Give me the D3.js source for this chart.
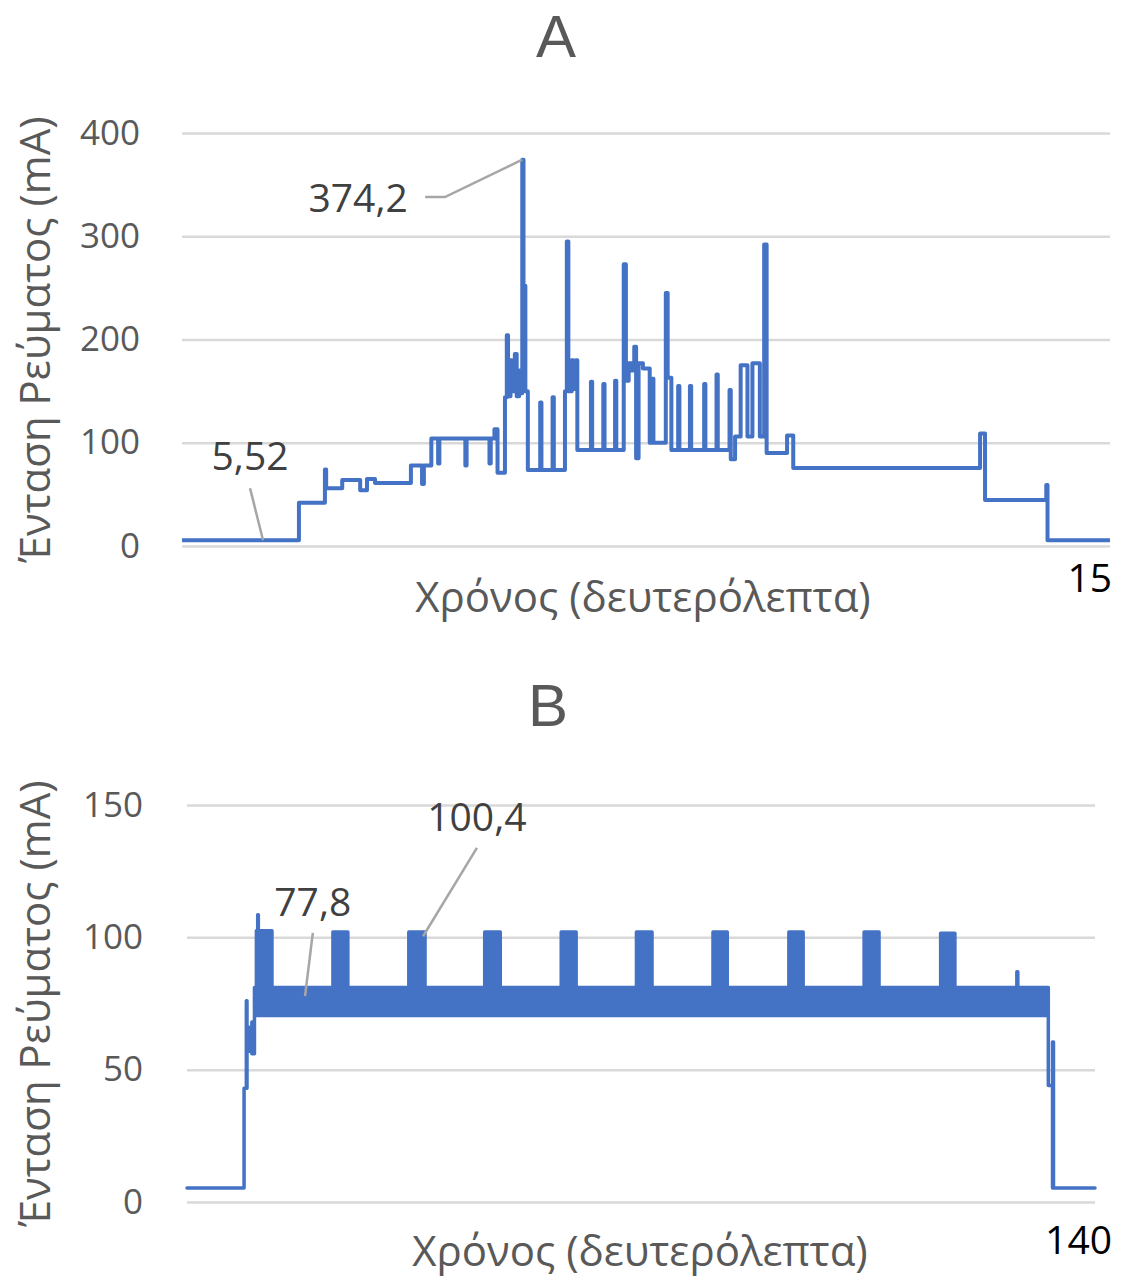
<!DOCTYPE html>
<html>
<head>
<meta charset="utf-8">
<script src="https://cdn.jsdelivr.net/npm/d3@7"></script>
<style>
  body { margin: 0; background: #fff; }
  text { font-family: "Open Sans", "Noto Sans", sans-serif; }
</style>
</head>
<body>
<svg id="canvas" width="1122" height="1284"></svg>
<script>
// --- Panel A: start-up current, step trace (time s, current mA) ---
let aTime = [0, 1.89, 2.31, 2.33, 2.59, 2.88, 2.99, 3.12, 3.70, 3.88, 3.91, 4.03, 4.14, 4.16, 4.58, 4.60, 4.97, 4.99,
             5.05, 5.10, 5.22, 5.25, 5.27, 5.31, 5.33, 5.38, 5.41, 5.45, 5.48, 5.50, 5.52, 5.53, 5.55, 5.59,
             5.79, 5.81, 5.99, 6.01, 6.19, 6.22, 6.245, 6.30, 6.33, 6.37, 6.39, 6.61, 6.63, 6.81, 6.83, 7.00, 7.02,
             7.14, 7.175, 7.22, 7.27, 7.31, 7.34, 7.38, 7.45, 7.56, 7.60, 7.62, 7.82, 7.85, 7.91, 8.02, 8.04,
             8.21, 8.23, 8.44, 8.46, 8.64, 8.66, 8.85, 8.87, 8.94, 9.03, 9.14, 9.22, 9.34, 9.41, 9.45, 9.78, 9.88,
             12.90, 12.98, 13.97, 13.99, 15]
let aCurrent = [5.5, 42, 74, 56, 64, 54, 65, 61, 78, 60, 78, 104, 80, 104, 78, 104, 80, 104,
                113, 71, 144, 204, 145, 180, 150, 186, 145, 170, 148, 374.2, 160, 252, 150, 73.5,
                139, 73.5, 144, 73.5, 150, 295, 150, 180, 152, 180, 93, 159, 93, 157, 93, 160, 93,
                273, 160, 177, 170, 193, 85, 177, 172, 100, 162, 100, 245, 163, 93, 155, 93,
                155, 93, 157, 93, 166, 93, 151, 84, 106, 175, 106, 177, 106, 292, 90, 107, 75.5,
                109, 44.5, 59, 5.5, 5.5]
let aTicks = [0, 100, 200, 300, 400]

// --- Panel B: steady run, min/max envelope of the current (time s, mA) ---
let bTime = [0, 8.8, 9.15, 9.25, 9.6, 10.0, 10.4, 10.7, 10.9, 11.0, 13.1, 22.5, 24.8, 34.2, 36.7, 45.9, 48.3,
             57.7, 60.0, 69.3, 71.7, 81.1, 83.3, 92.8, 95.0, 104.4, 106.7, 116.2, 118.4, 127.95, 128.1,
             132.8, 133.45, 133.6, 140]
let bLow = [5.3, 43, 43, 57, 59, 56, 70.5, 70.5, 70.5, 70.5, 70.5, 70.5, 70.5, 70.5, 70.5, 70.5, 70.5,
            70.5, 70.5, 70.5, 70.5, 70.5, 70.5, 70.5, 70.5, 70.5, 70.5, 70.5, 70.5, 70.5, 70.5,
            44, 5.3, 5.3, 5.3]
let bHigh = [5.3, 43, 76, 66, 64, 68, 81, 102.5, 108.5, 102.5, 81, 102, 81, 102, 81, 102, 81,
             102, 81, 102, 81, 102, 81, 102, 81, 102, 81, 101.5, 81, 87, 81,
             44, 60.5, 5.3, 5.3]
let bTicks = [0, 50, 100, 150]

let axisTitleY = 'Ένταση Ρεύματος (mA)'
let axisTitleX = 'Χρόνος (δευτερόλεπτα)'

let canvas = d3.select('#canvas')
let blue = '#4472c4'
let grey = '#595959'

let drawPanel = (p) => {
    let xScale = d3.scaleLinear().domain(p.xDomain).range([p.left, p.right])
    let yScale = d3.scaleLinear().domain(p.yDomain).range([p.bottom, p.top])

    // gridlines + tick labels
    let yAxis = d3.axisLeft(yScale)
                  .tickValues(p.ticks)
                  .tickSize(-(p.right - p.left))
                  .tickPadding(p.tickPad)
    let g = canvas.append('g')
                  .attr('transform', 'translate(' + p.left + ',0)')
                  .call(yAxis)
    g.select('.domain').remove()
    g.selectAll('.tick line').attr('stroke', '#d9d9d9').attr('stroke-width', 2.5)
    g.selectAll('.tick text')
     .attr('fill', grey)
     .style('font-size', '35px')
     .style('font-family', '"Open Sans", sans-serif')

    p.drawData(xScale, yScale)

    // titles
    canvas.append('text')
          .text(p.title)
          .attr('x', p.titleX).attr('y', p.titleY)
          .attr('text-anchor', 'middle')
          .attr('fill', grey)
          .style('font-family', '"Liberation Sans", sans-serif')
          .style('font-size', '60px')

    canvas.append('text')
          .text(axisTitleX)
          .attr('x', p.xTitleX).attr('y', p.xTitleY)
          .attr('text-anchor', 'middle')
          .attr('fill', grey)
          .style('font-size', '42px')

    canvas.append('text')
          .text(axisTitleY)
          .attr('transform', 'translate(50,' + ((p.top + p.bottom) / 2) + ') rotate(-90)')
          .attr('text-anchor', 'middle')
          .attr('fill', grey)
          .style('font-size', '42px')

    canvas.append('text')
          .text(p.endLabel)
          .attr('x', 1112).attr('y', p.endLabelY)
          .attr('text-anchor', 'end')
          .attr('fill', '#000')
          .style('font-size', '39px')

    // data callouts
    p.callouts.forEach((c) => {
        canvas.append('path')
              .attr('d', d3.line().x((d) => xScale(d[0])).y((d) => yScale(d[1]))(c.leader))
              .attr('fill', 'none')
              .attr('stroke', '#a6a6a6')
              .attr('stroke-width', 2.5)
        canvas.append('text')
              .text(c.label)
              .attr('x', xScale(c.at[0])).attr('y', yScale(c.at[1]))
              .attr('dy', '0.36em')
              .attr('text-anchor', c.anchor)
              .attr('fill', '#404040')
              .style('font-size', '39px')
    })
}

drawPanel({
    title: 'A', titleX: 556, titleY: 57,
    left: 182, right: 1110, top: 133, bottom: 546,
    xDomain: [0, 15], yDomain: [0, 400], ticks: aTicks, tickPad: 42,
    xTitleX: 643, xTitleY: 612,
    endLabel: '15', endLabelY: 592,
    callouts: [
        { label: '374,2', at: [3.65, 337], anchor: 'end', leader: [[3.93, 338], [4.25, 338], [5.50, 374.2]] },
        { label: '5,52', at: [1.10, 87], anchor: 'middle', leader: [[1.10, 56], [1.31, 5.52]] }
    ],
    drawData: (xScale, yScale) => {
        let points = aTime.map((t, i) => [t, aCurrent[i]])
        canvas.append('path')
              .attr('d', d3.line()
                           .x((d) => xScale(d[0]))
                           .y((d) => yScale(d[1]))
                           .curve(d3.curveStepAfter)(points))
              .attr('fill', 'none')
              .attr('stroke', blue)
              .attr('stroke-width', 4)
              .attr('stroke-linejoin', 'round')
    }
})

drawPanel({
    title: 'B', titleX: 548, titleY: 726,
    left: 187, right: 1095, top: 805, bottom: 1202,
    xDomain: [0, 140], yDomain: [0, 150], ticks: bTicks, tickPad: 44,
    xTitleX: 640, xTitleY: 1266,
    endLabel: '140', endLabelY: 1254,
    callouts: [
        { label: '77,8', at: [19.4, 113.5], anchor: 'middle', leader: [[19.4, 101.7], [18.2, 77.8]] },
        { label: '100,4', at: [44.7, 145.5], anchor: 'middle', leader: [[44.7, 133.8], [36.4, 100.4]] }
    ],
    drawData: (xScale, yScale) => {
        let points = bTime.map((t, i) => ({ t: t, lo: bLow[i], hi: bHigh[i] }))
        canvas.append('path')
              .attr('d', d3.area()
                           .x((d) => xScale(d.t))
                           .y0((d) => yScale(d.lo))
                           .y1((d) => yScale(d.hi))
                           .curve(d3.curveStepAfter)(points))
              .attr('fill', blue)
              .attr('stroke', blue)
              .attr('stroke-width', 3.5)
              .attr('stroke-linejoin', 'round')
    }
})
</script>
</body>
</html>
